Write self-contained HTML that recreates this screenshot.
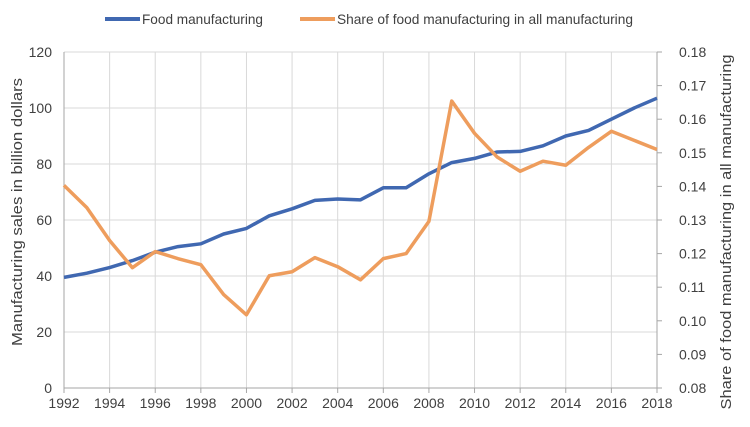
<!DOCTYPE html>
<html><head><meta charset="utf-8"><style>
body{margin:0;background:#fff;}
svg{font-family:"Liberation Sans",sans-serif;}
</style></head><body>
<svg id="chart" width="750" height="422">
<g id="legend">
<line x1="105" y1="19" x2="140" y2="19" stroke="#4068b1" stroke-width="4"/>
<text x="142" y="24" font-size="14" textLength="121" lengthAdjust="spacingAndGlyphs" fill="#404040">Food manufacturing</text>
<line x1="300" y1="19" x2="335" y2="19" stroke="#ee9d5d" stroke-width="4"/>
<text x="337" y="24" font-size="14" textLength="296" lengthAdjust="spacingAndGlyphs" fill="#404040">Share of food manufacturing in all manufacturing</text>
</g>
<text transform="translate(22,212) rotate(-90)" text-anchor="middle" font-size="15" textLength="268" lengthAdjust="spacingAndGlyphs" fill="#404040">Manufacturing sales in billion dollars</text>
<text transform="translate(731,232) rotate(-90)" text-anchor="middle" font-size="15" textLength="355" lengthAdjust="spacingAndGlyphs" fill="#404040">Share of food manufacturing in all manufacturing</text>
<g id="grid"></g><g id="axes"></g><g id="series"></g>
</svg>
<script>
const years=[1992,1993,1994,1995,1996,1997,1998,1999,2000,2001,2002,2003,2004,2005,2006,2007,2008,2009,2010,2011,2012,2013,2014,2015,2016,2017,2018];
const foodSales=[39.5,41,43,45.5,48.5,50.5,51.5,55,57,61.5,64,67,67.5,67.2,71.5,71.5,76.5,80.5,82,84.3,84.5,86.5,90,92,96,100,103.5];
const foodShare=[0.1403,0.1337,0.1239,0.1158,0.1206,0.1185,0.1167,0.1078,0.1018,0.1134,0.1146,0.1188,0.1161,0.1122,0.1185,0.12,0.1296,0.1654,0.1558,0.1487,0.1445,0.1475,0.1463,0.1516,0.1564,0.1537,0.151];
const leftTicks=[0,20,40,60,80,100,120];
const rightTicks=[0.08,0.09,0.10,0.11,0.12,0.13,0.14,0.15,0.16,0.17,0.18];
const xTicks=[1992,1994,1996,1998,2000,2002,2004,2006,2008,2010,2012,2014,2016,2018];
const L=64,R=657,T=52,B=388;
const x=v=>L+(v-1992)/(2018-1992)*(R-L);
const yL=v=>B-v/120*(B-T);
const yR=v=>B-(v-0.08)/0.1*(B-T);
const NS="http://www.w3.org/2000/svg";
function mk(p,tag,a){const e=document.createElementNS(NS,tag);for(const k in a)e.setAttribute(k,a[k]);p.appendChild(e);return e;}
const grid=document.getElementById('grid'),axes=document.getElementById('axes'),series=document.getElementById('series');
leftTicks.forEach(t=>{
 const g=mk(grid,'line',{x1:L,x2:R,y1:yL(t),y2:yL(t),stroke:'#d9d9d9','stroke-width':1});
 
 
 const tx=mk(axes,'text',{x:L-12,y:yL(t)+5,'text-anchor':'end','font-size':14,fill:'#404040'});tx.textContent=t;
 
 
});
xTicks.forEach(t=>{
 const g=mk(grid,'line',{x1:x(t),x2:x(t),y1:T,y2:B,stroke:'#d9d9d9','stroke-width':1});
 
 
 const tk=mk(axes,'line',{x1:x(t),x2:x(t),y1:B,y2:B+5,stroke:'#a6a6a6'});
 
 
 const tx=mk(axes,'text',{x:x(t),y:B+20,'text-anchor':'middle','font-size':14,fill:'#404040'});tx.textContent=t;
 
 
});
rightTicks.forEach(t=>{
 const tk=mk(axes,'line',{x1:R,x2:R+5,y1:yR(t),y2:yR(t),stroke:'#a6a6a6'});
 
 
 const tx=mk(axes,'text',{x:R+22,y:yR(t)+5,'font-size':14,fill:'#404040'});tx.textContent=t.toFixed(2);
 
 
});
let a=mk(axes,'line',{x1:L,x2:L,y1:T,y2:B,stroke:'#a6a6a6'});


a=mk(axes,'line',{x1:R,x2:R,y1:T,y2:B,stroke:'#a6a6a6'});


a=mk(axes,'line',{x1:L,x2:R,y1:B,y2:B,stroke:'#a6a6a6'});


const p1=mk(series,'polyline',{points:years.map((yr,i)=>x(yr)+','+yL(foodSales[i])).join(' '),fill:'none',stroke:'#4068b1','stroke-width':3.5,'stroke-linejoin':'round'});


const p2=mk(series,'polyline',{points:years.map((yr,i)=>x(yr)+','+yR(foodShare[i])).join(' '),fill:'none',stroke:'#ee9d5d','stroke-width':3.5,'stroke-linejoin':'round'});


</script>
</body></html>
